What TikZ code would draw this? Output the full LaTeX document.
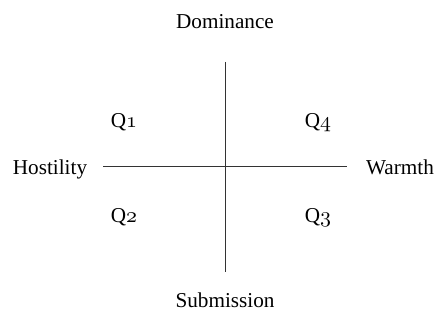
\documentclass[tikz,border=0pt]{standalone}
\usepackage{fontspec}
\setmainfont{Liberation Serif}
\usetikzlibrary{positioning}
\tikzset{
  ax/label/.style={font=\fontsize{10.6}{13}\selectfont, text=black, inner sep=1pt, anchor=base},
  ax/quad/.style={font=\fontsize{10.6}{13}\selectfont, text=black, inner sep=1pt, anchor=base},
  ax/line/.style={draw=black!80, line width=0.5pt}
}
\newcommand{\quadname}[1]{Q$\mathnormal{#1}$}

\begin{document}
\begin{tikzpicture}[x=0.5pt,y=-0.5pt]
  \useasboundingbox (0,0) rectangle (442,325);
  % axes
  \coordinate (north) at (225,62);
  \coordinate (south) at (225,272);
  \coordinate (west) at (103,167);
  \coordinate (east) at (347,167);
  \draw[ax/line] (north) -- (south);
  \draw[ax/line] (west) -- (east);
  % axis labels
  \node[ax/label] (dominance) at (225,29) {Dominance};
  \node[ax/label] (submission) at (225,307) {Submission};
  \node[ax/label] (hostility) at (50,175) {Hostility};
  \node[ax/label] (warmth) at (400,175) {Warmth};
  % quadrants
  \node[ax/quad] (q1) at (124,128) {\quadname{1}};
  \node[ax/quad] (q4) at (318,128) {\quadname{4}};
  \node[ax/quad] (q2) at (124,222) {\quadname{2}};
  \node[ax/quad] (q3) at (318,222) {\quadname{3}};
\end{tikzpicture}
\end{document}
